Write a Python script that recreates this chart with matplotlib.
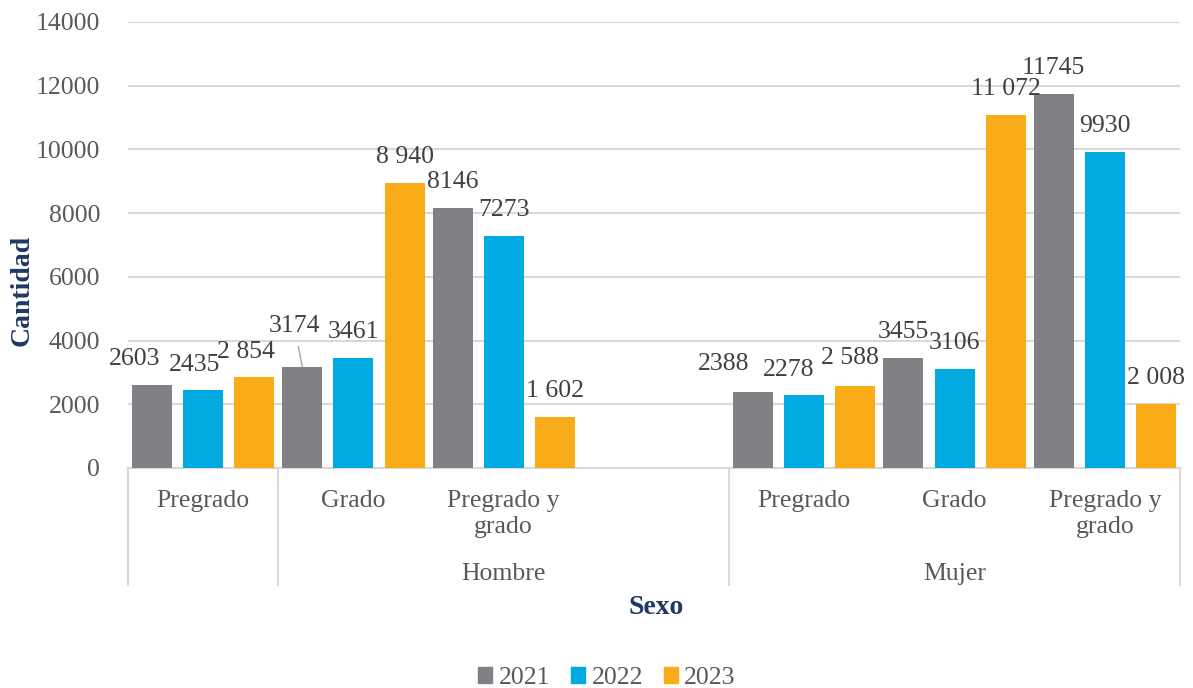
import matplotlib
matplotlib.use('Agg')
import matplotlib.pyplot as plt
import numpy as np
from matplotlib.patches import Patch

# slots on the category axis (one empty slot between the two groups)
categories = ['Pregrado', 'Grado', 'Pregrado y\ngrado', '', 'Pregrado', 'Grado', 'Pregrado y\ngrado']
groups = ['Hombre', 'Mujer']
years = ['2021', '2022', '2023']

v2021 = [2603, 3174, 8146, None, 2388, 3455, 11745]
v2022 = [2435, 3461, 7273, None, 2278, 3106, 9930]
v2023 = [2854, 8940, 1602, None, 2588, 11072, 2008]
labels2023 = ['2 854', '8 940', '1 602', None, '2 588', '11 072', '2 008']

COLORS = ['#808185', '#00A9E0', '#FAAB18']
GRID = '#D9D9D9'
NAVY = '#1F3864'
LABEL_C = '#404040'
TICK_C = '#595959'

plt.rcParams['font.family'] = ['Liberation Serif', 'DejaVu Serif']
FS = 18.5
FS_BOLD = 20

fig = plt.figure(figsize=(11.93, 6.88), dpi=100)
ax = fig.add_axes([128 / 1193, 1 - 468 / 688, (1180 - 128) / 1193, 446 / 688])

x = np.arange(len(categories)) + 0.5
offsets = [-0.34, 0.0, 0.34]
width = 0.266

# per-label nudges (pixels) where the labels were moved by hand
nudge = {(0, 0): (-17, 26), (0, 1): (-9, 25), (0, 2): (-8, 25),
         (1, 0): (-8, 41),
         (4, 0): (-30, 28), (4, 1): (-16, 25), (4, 2): (-5, 28)}

series = [v2021, v2022, v2023]
for s, vals in enumerate(series):
    for i, v in enumerate(vals):
        if v is None:
            continue
        xi = x[i] + offsets[s]
        ax.bar(xi, v, width=width, color=COLORS[s], zorder=3)
        txt = labels2023[i] if s == 2 else str(v)
        dx, dy = nudge.get((i, s), (0, 26))
        kw = {}
        if (i, s) == (1, 0):
            kw['arrowprops'] = dict(arrowstyle='-', color='#A6A6A6', lw=1, shrinkA=5, shrinkB=0)
        ax.annotate(txt, xy=(xi, v), xytext=(dx, dy), textcoords='offset pixels',
                    ha='center', va='center', fontsize=FS, color=LABEL_C, **kw)

ax.set_xlim(0, len(categories))
ax.set_ylim(0, 14000)
ax.set_yticks(np.arange(0, 14001, 2000))
ax.set_yticklabels([str(t) for t in range(0, 14001, 2000)], fontsize=FS, color=TICK_C)
ax.yaxis.grid(True, color=GRID, lw=1.5, zorder=0)
ax.tick_params(axis='y', length=0, pad=20)

ax.set_xticks(x)
ax.set_xticklabels(categories, fontsize=FS, color=TICK_C, linespacing=1.25)
ax.tick_params(axis='x', length=0, pad=16)

for sp in ['top', 'right', 'left']:
    ax.spines[sp].set_visible(False)
ax.spines['bottom'].set_color(GRID)
ax.spines['bottom'].set_linewidth(1.5)

# category separators
tr = ax.get_xaxis_transform()
depth = -(585 - 468) / 446
for xs in [0, 1, 4, 7]:
    ax.plot([xs, xs], [0, depth], transform=tr, color=GRID, lw=1.5, clip_on=False)

# second level labels
ax.text(2.5, -(574 - 468) / 446, groups[0], transform=tr, ha='center', va='center',
        fontsize=FS, color=TICK_C)
ax.text(5.5, -(574 - 468) / 446, groups[1], transform=tr, ha='center', va='center',
        fontsize=FS, color=TICK_C)

fig.text(22 / 1193, 1 - 290 / 688, 'Cantidad', rotation=90, ha='center', va='center',
         fontsize=FS_BOLD, fontweight='bold', color=NAVY)
fig.text(656 / 1193, 1 - 608 / 688, 'Sexo', ha='center', va='center',
         fontsize=FS_BOLD, fontweight='bold', color=NAVY)

handles = [Patch(color=c, label=y) for c, y in zip(COLORS, years)]
leg = fig.legend(handles=handles, loc='center', bbox_to_anchor=(607 / 1193, 1 - 678 / 688), ncol=3,
                 frameon=False, fontsize=FS, handlelength=0.55, handleheight=0.55,
                 handletextpad=0.25, columnspacing=0.8)
for t in leg.get_texts():
    t.set_color(TICK_C)

fig.savefig('out.png', dpi=100)
